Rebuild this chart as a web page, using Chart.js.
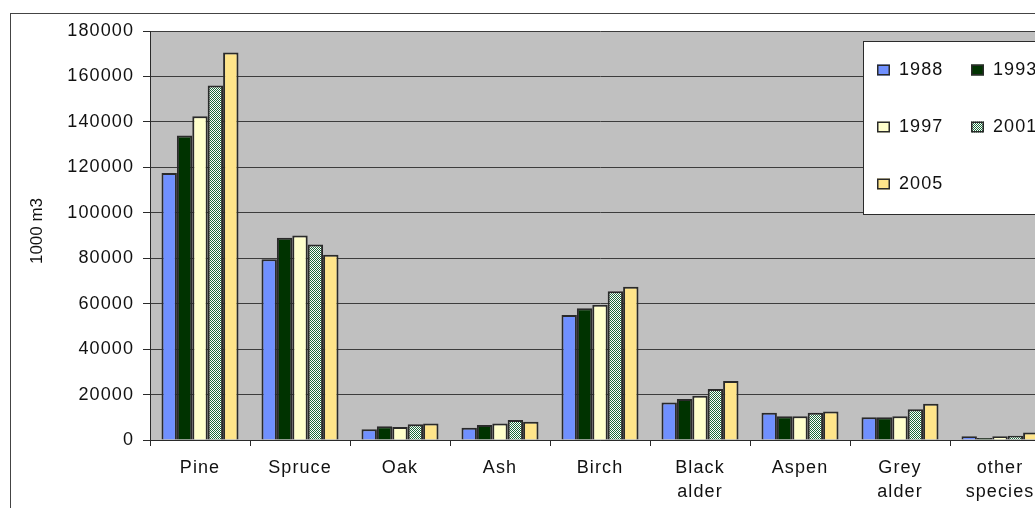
<!DOCTYPE html>
<html>
<head>
<meta charset="utf-8">
<title>Growing stock by tree species</title>
<script src="https://cdn.jsdelivr.net/npm/chart.js@4.4.1/dist/chart.umd.min.js"></script>
<style>
  html, body { margin: 0; padding: 0; background: #fff; overflow: hidden; }
  #wrap { width: 1035px; height: 508px; overflow: hidden; position: relative; }
  canvas { display: block; }
</style>
</head>
<body>
<div id="wrap"><canvas id="c" width="1070" height="520"></canvas></div>
<script>
// Growing stock, 1000 m3, by species and inventory year
const species = ['Pine', 'Spruce', 'Oak', 'Ash', 'Birch', ['Black', 'alder'], 'Aspen', ['Grey', 'alder'], ['other', 'species']];
const years = ['1988', '1993', '1997', '2001', '2005'];
const v1988 = [117500, 79500, 4700, 5400, 55000, 16500, 12000, 10000, 1600];
const v1993 = [134000, 89000, 6000, 6600, 58000, 18000, 10500, 10000, 900];
const v1997 = [142500, 90000, 5700, 7300, 59500, 19500, 10500, 10500, 1600];
const v2001 = [156000, 86000, 6900, 8800, 65500, 22500, 12000, 13500, 1900];
const v2005 = [170500, 81500, 7300, 8000, 67500, 26000, 12500, 16000, 3300];
const yRange = [0, 180000, 20000]; // min, max, step
const yTitle = '1000 m3';

const FONT = "'Liberation Sans', Arial, sans-serif";
const FSIZE = 18;
const SPACING = '1.1px';
const INK = '#2a2a2a';

const canvas = document.getElementById('c');
const ctx = canvas.getContext('2d');

// fine green/white checker used for the 2001 series
function checker() {
  const p = document.createElement('canvas');
  p.width = 2; p.height = 2;
  const g = p.getContext('2d');
  g.fillStyle = '#ffffff'; g.fillRect(0, 0, 2, 2);
  g.fillStyle = '#1d6b3a'; g.fillRect(0, 0, 1, 1); g.fillRect(1, 1, 1, 1);
  return ctx.createPattern(p, 'repeat');
}
const fills = ['#7090FF', '#003300', '#FFFFCC', checker(), '#FFE58A'];
const series = [v1988, v1993, v1997, v2001, v2005];

// wide, spaced text like the original office chart
const spacing = {
  id: 'spacing',
  beforeUpdate(c) { c.ctx.letterSpacing = SPACING; },
  beforeLayout(c) { c.ctx.letterSpacing = SPACING; },
  beforeDraw(c) { c.ctx.letterSpacing = SPACING; }
};

const frame = {
  id: 'frame',
  beforeDraw(c) {
    const g = c.ctx, a = c.chartArea;
    g.save();
    g.fillStyle = '#fff';
    g.fillRect(0, 0, c.width, c.height);
    g.strokeStyle = '#444';
    g.lineWidth = 1;
    g.strokeRect(10.5, 13.5, c.width, c.height);
    g.fillStyle = '#C0C0C0';
    g.fillRect(a.left, a.top, a.right - a.left, a.bottom - a.top);
    g.restore();
  },
  afterDraw(c) {
    const g = c.ctx;
    g.save();
    // axis title
    g.letterSpacing = '0px';
    g.translate(37, 231);
    g.rotate(-Math.PI / 2);
    g.font = '17px ' + FONT;
    g.fillStyle = '#111';
    g.textAlign = 'center';
    g.textBaseline = 'middle';
    g.fillText(yTitle, 0, 0);
    g.restore();

    // legend box
    g.save();
    g.letterSpacing = SPACING;
    g.fillStyle = '#fff';
    g.fillRect(863.5, 41.5, 220, 173);
    g.strokeStyle = INK;
    g.lineWidth = 1;
    g.strokeRect(863.5, 41.5, 220, 173);
    const colX = [877, 971];
    const rowY = [70, 127, 184];
    g.font = FSIZE + 'px ' + FONT;
    g.textBaseline = 'middle';
    g.textAlign = 'left';
    years.forEach((y, i) => {
      const x = colX[i % 2], cy = rowY[Math.floor(i / 2)];
      g.fillStyle = fills[i];
      g.fillRect(x, cy - 5.5, 13, 11);
      g.strokeStyle = INK;
      g.lineWidth = 1.5;
      g.strokeRect(x + 0.75, cy - 4.75, 11.5, 9.5);
      g.fillStyle = '#111';
      g.fillText(y, x + 22, cy);
    });
    g.restore();
  }
};

new Chart(canvas, {
  type: 'bar',
  data: {
    labels: species,
    datasets: years.map((y, i) => ({
      label: y,
      data: series[i],
      backgroundColor: fills[i],
      borderColor: INK,
      borderWidth: 2,
      categoryPercentage: 0.77,
      barPercentage: 1.0
    }))
  },
  options: {
    responsive: false,
    devicePixelRatio: 1,
    animation: false,
    layout: { padding: { left: 0, top: 31, right: 20, bottom: 0 } },
    plugins: {
      legend: { display: false },
      tooltip: { enabled: false }
    },
    scales: {
      x: {
        afterFit(s) { s.height = 80; },
        grid: { offset: true, drawOnChartArea: false, drawTicks: true, tickLength: 6, color: INK },
        border: { display: true, color: INK, width: 1 },
        ticks: { color: '#111', font: { family: FONT, size: FSIZE, lineHeight: 1.34 }, padding: 10, maxRotation: 0, autoSkip: false }
      },
      y: {
        min: yRange[0],
        max: yRange[1],
        afterFit(s) { s.width = 150; },
        grid: { color: '#3c3c3c', lineWidth: 1, drawTicks: true, tickLength: 7, tickColor: INK },
        border: { display: true, color: INK, width: 1 },
        ticks: { stepSize: yRange[2], color: '#111', padding: 9, font: { family: FONT, size: FSIZE },
                 callback: v => String(v) }
      }
    }
  },
  plugins: [spacing, frame]
});
</script>
</body>
</html>
